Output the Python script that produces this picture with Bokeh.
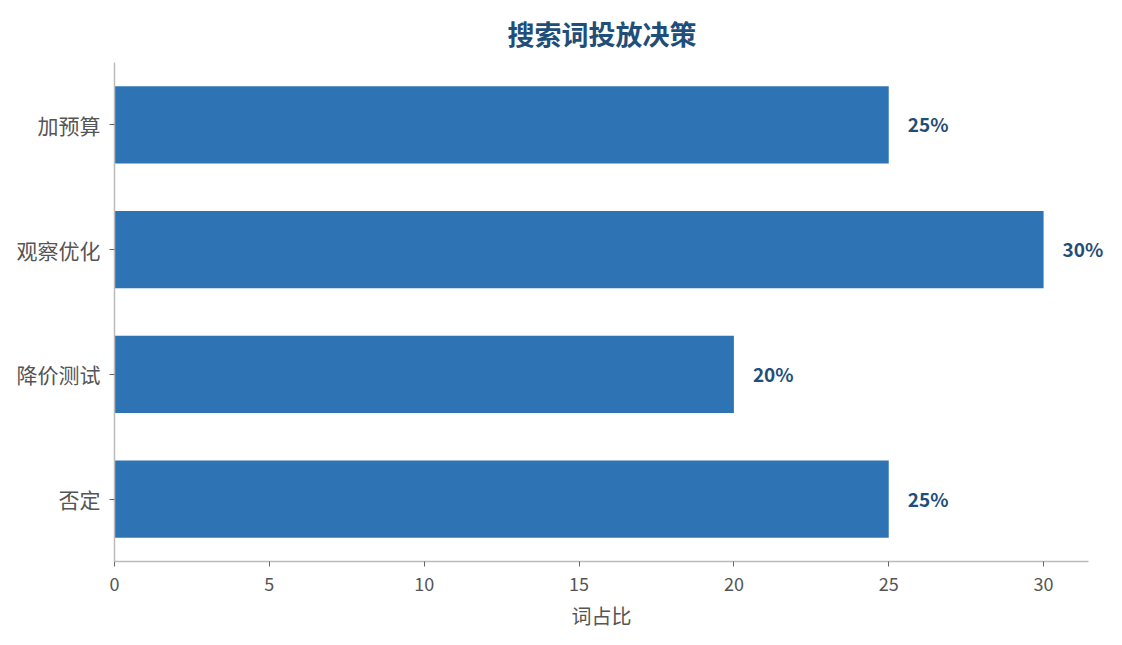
from bokeh.plotting import figure
from bokeh.models import ColumnDataSource, FactorRange, Range1d, FixedTicker, LabelSet, Title
from bokeh.embed import file_html
from bokeh.resources import INLINE
from bokeh.core.properties import value

categories = ["加预算", "观察优化", "降价测试", "否定"]
shares = [25, 30, 20, 25]
labels = ["25%", "30%", "20%", "25%"]
x_ticks = [0, 5, 10, 15, 20, 25, 30]
x_max = 31.45

FONT = "Noto Sans CJK SC"
BAR = "#2E74B5"
DARK = "#1F4E79"
GREY = "#555555"

src = ColumnDataSource(dict(cat=categories, val=shares, lab=labels))

# axis line ends at x_max; frame is wider so the value labels are not clipped
frame_px_axis = 974
frame_px_total = 1110 - 114
p = figure(
    width=1120, height=640,
    y_range=FactorRange(*categories[::-1]),
    x_range=Range1d(0, x_max * frame_px_total / frame_px_axis),
    output_backend="svg", toolbar_location=None,
    min_border_left=114, min_border_right=10, min_border_top=62, min_border_bottom=79,
)

p.hbar(y="cat", right="val", left=0, height=0.62, source=src, color=BAR, line_color=None)
p.add_layout(LabelSet(x="val", y="cat", text="lab", source=src, x_offset=19, y_offset=1,
                      text_align="left", text_baseline="middle",
                      text_font=value(FONT), text_font_size=value("19px"),
                      text_font_style=value("bold"), text_color=value(DARK)))

p.title.text = "搜索词投放决策"
p.title.align = "left"
p.title.offset = 393
p.title.text_font = FONT
p.title.text_font_size = "27px"
p.title.text_font_style = "bold"
p.title.text_color = DARK
p.title.standoff = 20

p.xaxis.ticker = FixedTicker(ticks=x_ticks)
p.xaxis.bounds = (0, x_max)
for ax in (p.xaxis[0], p.yaxis[0]):
    ax.axis_line_color = "#bbbbbb"
    ax.axis_line_width = 1.5
    ax.major_tick_line_color = "#666666"
    ax.major_tick_out = 5
    ax.major_tick_in = 0
    ax.minor_tick_line_color = None
    ax.major_label_text_font = FONT
    ax.major_label_text_color = GREY
p.xaxis.major_label_text_font_size = "18px"
p.yaxis.major_label_text_font_size = "21px"
p.yaxis.major_label_standoff = 9
p.xaxis.major_label_standoff = 10

# x-axis label, centred under the axis line rather than the (wider) frame
p.add_layout(Title(text="词占比", align="left", offset=457, standoff=10,
                   text_font=FONT, text_font_size="20px", text_font_style="normal",
                   text_color=GREY), "below")

p.xgrid.visible = False
p.ygrid.visible = False
p.outline_line_color = None

open("out.html", "w").write(file_html(p, INLINE))
